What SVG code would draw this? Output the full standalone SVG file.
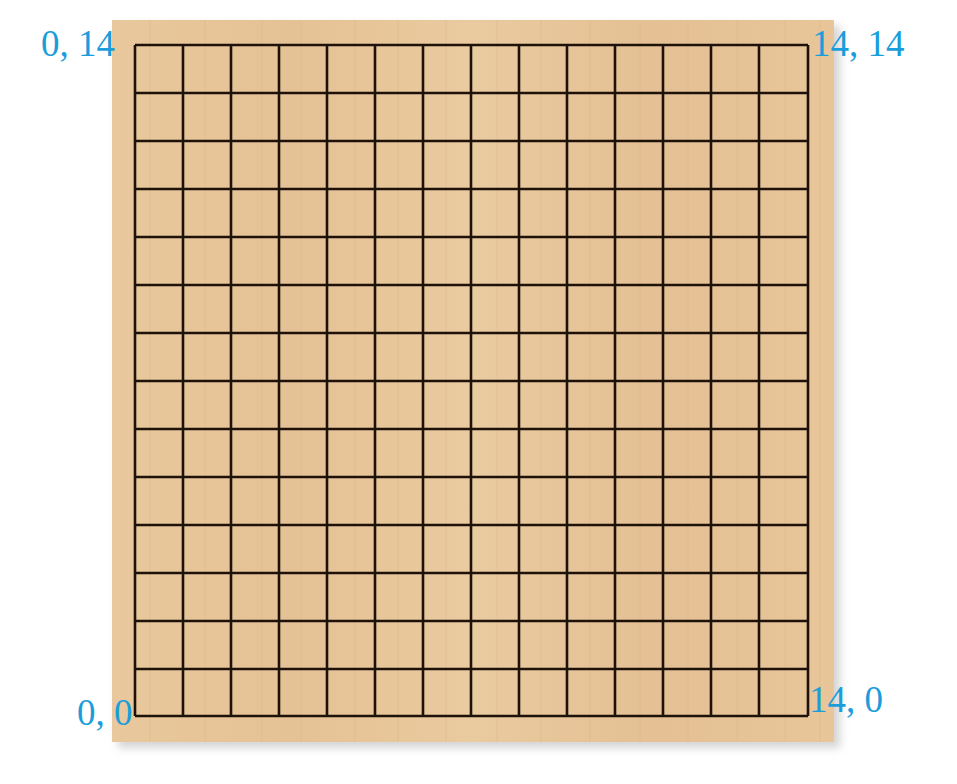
<svg xmlns="http://www.w3.org/2000/svg" width="957" height="784" viewBox="0 0 957 784">
<style>
.lbl{font-family:"Liberation Serif","DejaVu Serif",serif;font-size:37px;fill:#1a9ddb}
.grid{stroke:#1c120a;stroke-width:2.6;fill:none}
.grain{stroke:#d9b284;stroke-width:1;opacity:0.45;fill:none}
</style>
<defs>
<linearGradient id="wood" x1="0" y1="0" x2="1" y2="0">
<stop offset="0" stop-color="#e9c89d"/>
<stop offset="0.25" stop-color="#e5c295"/>
<stop offset="0.5" stop-color="#eaca9f"/>
<stop offset="0.75" stop-color="#e4c094"/>
<stop offset="1" stop-color="#e8c69a"/>
</linearGradient>
<filter id="sh" x="-5%" y="-5%" width="115%" height="115%">
<feGaussianBlur stdDeviation="4"/>
</filter>
</defs>
<rect width="957" height="784" fill="#ffffff"/>
<g id="board">
<rect x="118" y="26" width="722" height="722" fill="#b8b8b8" opacity="0.6" filter="url(#sh)"/>
<rect x="112" y="20" width="722" height="722" fill="url(#wood)"/>
<path class="grain" d="M150 20V742M205 20V742M262 20V742M301 20V742M355 20V742M398 20V742M446 20V742M497 20V742M541 20V742M590 20V742M640 20V742M688 20V742M737 20V742M785 20V742M820 20V742"/>
</g>
<g id="grid">
<path class="grid" d="M135 45V716M183 45V716M231 45V716M279 45V716M327 45V716M375 45V716M423 45V716M471 45V716M519 45V716M567 45V716M615 45V716M663 45V716M711 45V716M759 45V716M808 45V716
M135 45H808M135 93H808M135 141H808M135 189H808M135 237H808M135 285H808M135 333H808M135 381H808M135 429H808M135 477H808M135 525H808M135 573H808M135 621H808M135 669H808M135 716H808"/>
</g>
<g id="labels">
<text class="lbl" x="41" y="56">0, 14</text>
<text class="lbl" x="812" y="56">14, 14</text>
<text class="lbl" x="77" y="725">0, 0</text>
<text class="lbl" x="809" y="712">14, 0</text>
</g>
</svg>
